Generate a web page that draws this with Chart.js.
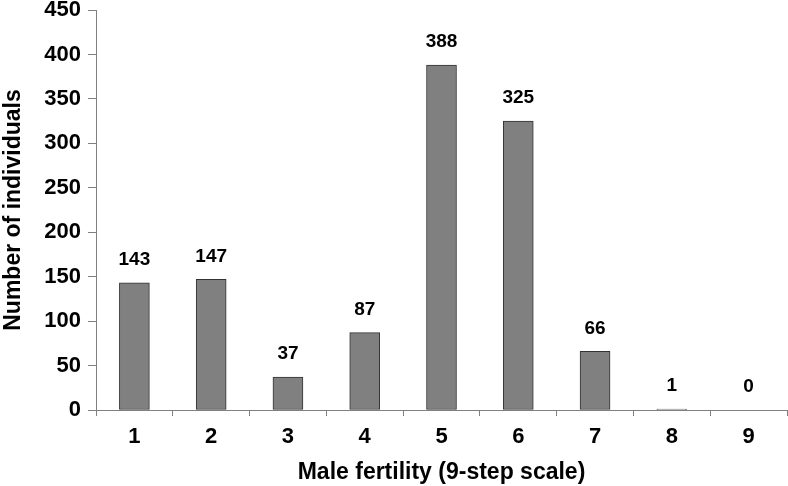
<!DOCTYPE html>
<html>
<head>
<meta charset="utf-8">
<script src="https://cdn.jsdelivr.net/npm/chart.js@4"></script>
<style>
  html, body { margin: 0; padding: 0; background: #fff; }
  #wrap { width: 788px; height: 486px; position: relative; }
</style>
</head>
<body>
<div id="wrap"><canvas id="fertChart"></canvas></div>
<script>
/* ── data ── */
const categories = ['1', '2', '3', '4', '5', '6', '7', '8', '9'];
const individuals = [143, 147, 37, 87, 388, 325, 66, 1, 0];
const yTicks = [0, 50, 100, 150, 200, 250, 300, 350, 400, 450];

const AXIS_GREY = '#808080';
const FONT = "'Liberation Sans', Arial, sans-serif";

/* ── value labels above bars ── */
const valueLabels = {
  id: 'valueLabels',
  afterDatasetsDraw(chart) {
    const ctx = chart.ctx;
    const meta = chart.getDatasetMeta(0);
    ctx.save();
    ctx.font = 'bold 19px ' + FONT;
    ctx.fillStyle = '#000';
    ctx.textAlign = 'center';
    ctx.textBaseline = 'middle';
    meta.data.forEach((bar, i) => {
      ctx.fillText(String(individuals[i]), bar.x, bar.y - 23);
    });
    ctx.restore();
  }
};

new Chart(document.getElementById('fertChart'), {
  type: 'bar',
  data: {
    labels: categories,
    datasets: [{
      data: individuals,
      backgroundColor: '#808080',
      borderColor: '#333333',
      borderWidth: 1,
      borderSkipped: false,
      barThickness: 30,
    }]
  },
  options: {
    responsive: true,
    maintainAspectRatio: false,
    animation: false,
    layout: { padding: { top: 10, right: 1, left: 0, bottom: 0 } },
    plugins: { legend: { display: false }, tooltip: { enabled: false } },
    scales: {
      x: {
        grid: { display: true, drawOnChartArea: false, color: AXIS_GREY, tickLength: 6, offset: true },
        border: { color: AXIS_GREY, width: 1 },
        ticks: { color: '#000', font: { family: FONT, size: 22, weight: 'bold' }, padding: 8 },
        title: { display: true, text: 'Male fertility (9-step scale)', color: '#000', font: { family: FONT, size: 23, weight: 'bold' }, padding: { top: 3, bottom: 0 } },
        afterFit: s => { s.height = 76; s.paddingLeft = 0; s.paddingRight = 0; },
      },
      y: {
        min: 0,
        max: 450,
        afterBuildTicks: s => { s.ticks = yTicks.map(v => ({ value: v })); },
        grid: { display: true, drawOnChartArea: false, color: AXIS_GREY, tickLength: 8 },
        border: { color: AXIS_GREY, width: 1 },
        ticks: { color: '#000', font: { family: FONT, size: 22, weight: 'bold' }, padding: 7 },
        title: { display: true, text: 'Number of individuals', color: '#000', font: { family: FONT, size: 23, weight: 'bold' }, padding: { top: 0, bottom: 0 } },
        afterFit: s => { s.width = 96; s.paddingTop = 0; s.paddingBottom = 0; },
      }
    }
  },
  plugins: [valueLabels]
});
</script>
</body>
</html>
